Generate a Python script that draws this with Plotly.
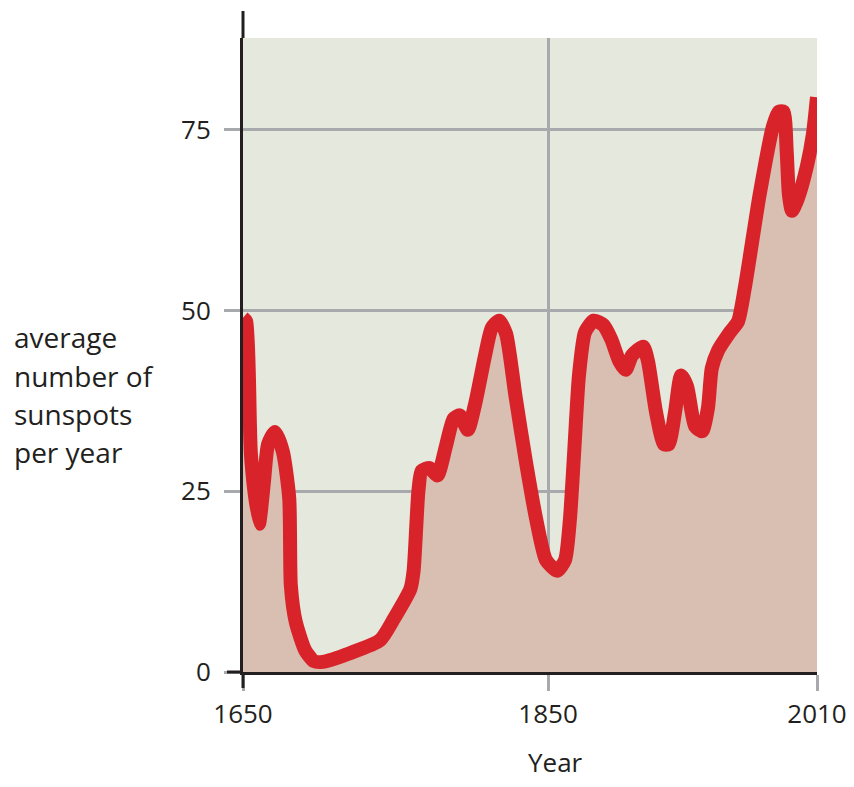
import plotly.graph_objects as go

# Horizontal position along the (non-uniform) time axis, expressed in axis units
years = [1650, 1652, 1655, 1660, 1663, 1665.7, 1670, 1675, 1679, 1680, 1683, 1689,
         1694.5, 1700, 1717, 1736, 1745, 1755, 1757, 1760, 1762, 1767, 1772, 1777,
         1782, 1786, 1791, 1795.5, 1802, 1806, 1810.6, 1815, 1821, 1827.5, 1834,
         1840, 1847, 1852, 1855, 1857.6, 1860.7, 1864.5, 1870, 1876, 1881, 1886,
         1890, 1894, 1901, 1904, 1909, 1914, 1917, 1921, 1924.7, 1928.5, 1933.5,
         1938, 1941.6, 1944, 1948, 1955.4, 1960.5, 1965, 1974, 1982.4, 1986, 1989,
         1991, 1992.4, 1994.3, 1998, 2003.7, 2007.5, 2010]
sunspots = [49, 48.5, 30, 20.5, 26, 31.5, 33.2, 30.5, 24, 12, 7, 3,
            1.5, 1.4, 2.6, 4.4, 7.5, 11.5, 14, 25, 27.8, 28.2, 27.2, 31,
            35, 35.5, 33.5, 37, 44, 47.6, 48.6, 46.8, 38, 29, 21,
            15.5, 14, 15.5, 21, 30, 41, 47, 48.6, 48, 46, 43,
            41.8, 43.8, 45, 43, 36, 31.5, 31.5, 36, 41, 39.5, 34,
            33.3, 36.5, 42, 44.5, 47, 48.5, 53.5, 66, 75.5, 77.5, 77.5,
            72, 66, 63.8, 65.5, 70, 74.5, 79.5]

tick_positions = [1650, 1841.3, 2010]
tick_labels = ["1650", "1850", "2010"]
y_ticks = [0, 25, 50, 75]
y_label_lines = ["average", "number of", "sunspots", "per year"]

FONT = "Open Sans"
TXT = "#231f20"
GRID = "#a7a9ac"
AXIS = "#231f20"

fig = go.Figure()
fig.add_trace(go.Scatter(
    x=years, y=sunspots, mode="lines",
    line=dict(color="#d8232a", width=14, shape="spline", smoothing=0.6),
    fill="tozeroy", fillcolor="#d9beb2",
    hoverinfo="x+y", showlegend=False,
))

OFF = 8  # page body margin
W, H = 854 - 2 * OFF, 787 - 2 * OFF
L, T = 243 - OFF, 38 - OFF
R = W - L - 574
B = H - T - 634
ph = H - T - B
pw = W - L - R

fig.update_layout(
    width=W, height=H,
    margin=dict(l=L, r=R, t=T, b=B, autoexpand=False),
    paper_bgcolor="white",
    plot_bgcolor="#e5e8dc",
    font=dict(family=FONT, size=26, color=TXT),
    xaxis=dict(
        range=[1650, 2010], tickvals=tick_positions, ticktext=tick_labels,
        showgrid=True, gridcolor=GRID, gridwidth=2.5,
        showline=True, linecolor=AXIS, linewidth=3,
        ticks="outside", ticklen=16, tickwidth=2.5, tickcolor=GRID,
        ticklabelstandoff=1, zeroline=False, automargin=False,
        ticklabeloverflow="allow",
        tickfont=dict(family=FONT, size=26, color=TXT),
    ),
    yaxis=dict(
        range=[0, 87.7], tickvals=y_ticks,
        showgrid=True, gridcolor=GRID, gridwidth=2.5,
        showline=True, linecolor=AXIS, linewidth=3,
        ticks="outside", ticklen=16, tickwidth=2.5, tickcolor=GRID,
        ticklabelstandoff=8, zeroline=False, automargin=False,
        tickfont=dict(family=FONT, size=26, color=TXT),
    ),
)

# axis line extension above plot, and black ticks at origin
fig.add_shape(type="line", xref="x domain", yref="y domain",
              x0=0, x1=0, y0=1, y1=1 + 27 / ph,
              line=dict(color=AXIS, width=3))
fig.add_shape(type="line", xref="x domain", yref="y domain",
              x0=-16 / pw, x1=0, y0=0, y1=0,
              line=dict(color=AXIS, width=3))
fig.add_shape(type="line", xref="x domain", yref="y domain",
              x0=0, x1=0, y0=-16 / ph, y1=0,
              line=dict(color=AXIS, width=3))

centers = [337.5, 375.5, 413.5, 452.5]  # page pixel centres
for txt, cy in zip(y_label_lines, centers):
    fig.add_annotation(text=txt, xref="paper", yref="paper",
                       x=(12 - OFF - L) / pw, y=(672 - cy) / ph,
                       xanchor="left", yanchor="middle", showarrow=False,
                       font=dict(family=FONT, size=28, color=TXT))

fig.add_annotation(text="Year", xref="paper", yref="paper",
                   x=(555 - OFF - L) / pw, y=(672 - 762) / ph,
                   xanchor="center", yanchor="middle", showarrow=False,
                   font=dict(family=FONT, size=26, color=TXT))

fig.write_html("out.html")
